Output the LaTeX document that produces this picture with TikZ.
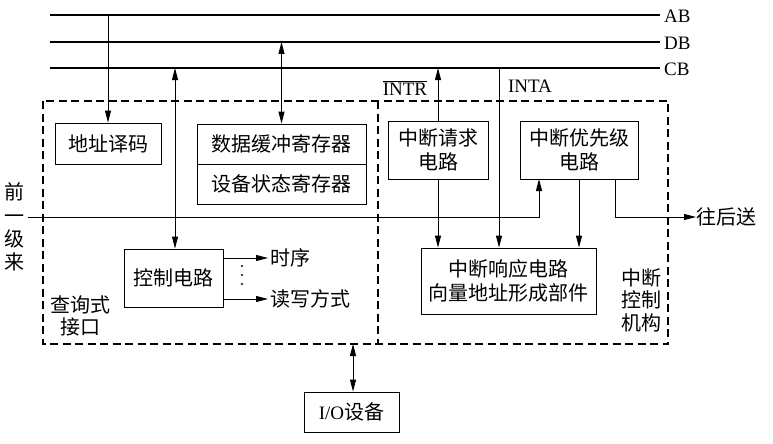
\documentclass[tikz,border=0pt]{standalone}
\usepackage{fontspec}
\setmainfont{Liberation Serif}
\newfontfamily\cjk{Noto Sans CJK SC}
\usetikzlibrary{arrows.meta}
\begin{document}
\begin{tikzpicture}[x=1pt,y=-1pt,
  every node/.style={font=\cjk\fontsize{20}{24}\selectfont, inner sep=0pt},
  bus/.style={line width=2pt},
  box/.style={draw, line width=0.9pt, rectangle, align=center},
  ln/.style={line width=0.9pt},
  arr/.style={ln, -{Triangle[length=12pt,width=6pt]}},
  darr/.style={ln, {Triangle[length=12pt,width=6pt]}-{Triangle[length=12pt,width=6pt]}},
  dash box/.style={line width=1.1pt, dash pattern=on 8pt off 4.5pt},
  lat/.style={font=\fontsize{19}{24}\selectfont}]
\useasboundingbox (0,0) rectangle (773,444);
% buses
\coordinate (ABl) at (50,15);  \coordinate (ABr) at (660,15);
\coordinate (DBl) at (50,42);  \coordinate (DBr) at (660,42);
\coordinate (CBl) at (50,68);  \coordinate (CBr) at (660,68);
\draw[bus] (ABl) -- (ABr);
\draw[bus] (DBl) -- (DBr);
\draw[bus] (CBl) -- (CBr);
\node[lat, anchor=west] (ABt) at (664,16) {AB};
\node[lat, anchor=west] (DBt) at (664,43) {DB};
\node[lat, anchor=west] (CBt) at (664,69) {CB};
% dashed regions
\draw[dash box] (43,101) rectangle (668,344);
\draw[dash box] (378,101) -- (378,344);
% boxes
\node[box, minimum width=106pt, minimum height=41pt] (addr) at (108,143.5) {地址译码};
\node[box, minimum width=169pt, minimum height=40pt] (dbuf) at (281.5,144) {数据缓冲寄存器};
\node[box, minimum width=169pt, minimum height=40pt] (dstat) at (281.5,184) {设备状态寄存器};
\node[box, minimum width=99pt, minimum height=58pt] (ctrl) at (173.5,278) {控制电路};
\node[box, minimum width=100pt, minimum height=58pt] (req) at (438,150) {中断请求\\电路};
\node[box, minimum width=118pt, minimum height=58pt] (prio) at (579,150) {中断优先级\\电路};
\node[box, minimum width=175pt, minimum height=66pt] (resp) at (508.5,281) {中断响应电路\\向量地址形成部件};
\node[box, minimum width=95pt, minimum height=40pt] (io) at (351.5,412) {{\rmfamily\fontsize{19}{24}\selectfont I/O}设备};
% labels
\node (intr) at (405,88) {\fontsize{19}{24}\selectfont\rmfamily$\overline{\hbox{INTR}}$};
\node[lat] (inta) at (530,86) {INTA};
\node[align=center, font=\cjk\fontsize{20}{23.3}\selectfont] (prev) at (15,227) {前\\一\\级\\来};
\node[align=center, font=\cjk\fontsize{20}{21.5}\selectfont] (query) at (80,316) {查询式\\接口};
\node[align=center, font=\cjk\fontsize{20}{22.5}\selectfont] (intctl) at (641,300) {中断\\控制\\机构};
\node[anchor=west] (timing) at (270,258) {时序};
\node[anchor=west] (rw) at (270,299) {读写方式};
\node[anchor=west] (back) at (696,217) {往后送};
% connectors
\draw[arr] (addr.north |- ABl) -- (addr.north);
\draw[darr] (dbuf.north |- DBl) -- (dbuf.north);
\coordinate (c175) at (175,68);
\draw[darr] (c175) -- (c175 |- ctrl.north);
\draw[arr] (req.north) -- (req.north |- CBl);
\draw[arr] (req.south) -- (req.south |- resp.north);
\coordinate (inta top) at (499,68);
\draw[arr] (inta top) -- (inta top |- resp.north);
\draw[arr] (prio.south) -- (prio.south |- resp.north);
\coordinate (prevstart) at (28,217);
\coordinate (prioin) at (539,179);
\draw[arr] (prevstart) -- (prevstart -| prioin) -- (prioin);
\coordinate (prioout) at (615,179);
\draw[arr] (prioout) -- (prioout |- back.west) -- (back.west);
\draw[arr] (ctrl.east |- timing.west) -- ([xshift=-2pt]timing.west);
\draw[arr] (ctrl.east |- rw.west) -- ([xshift=-2pt]rw.west);
\fill (242,266) circle (1.2pt) (242,275) circle (1.2pt) (242,284) circle (1.2pt);
\coordinate (iotop) at (353,344);
\draw[darr] (iotop) -- (iotop |- io.north);
\end{tikzpicture}
\end{document}
